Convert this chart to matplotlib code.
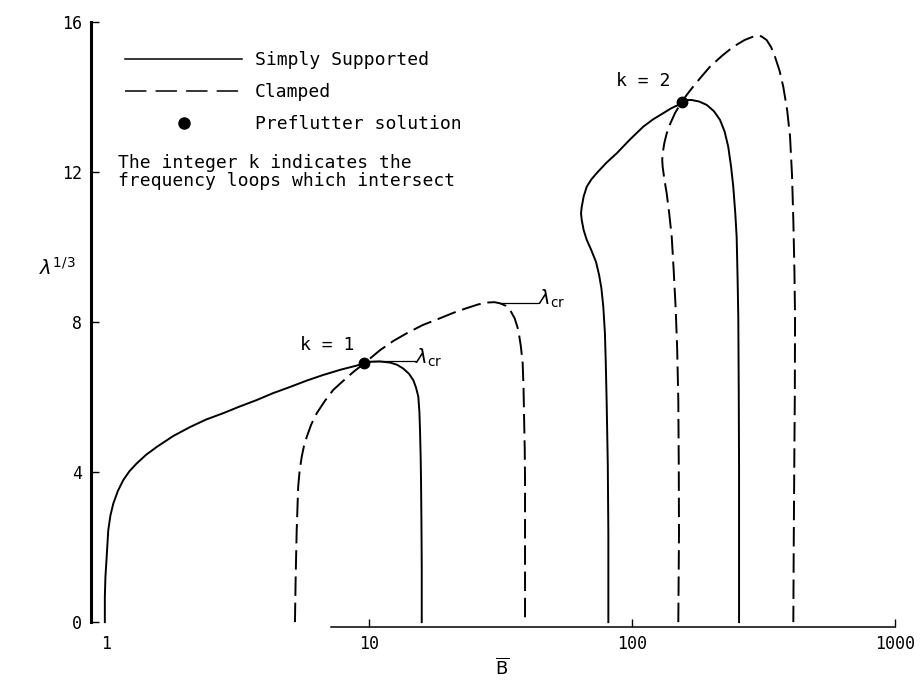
import matplotlib
matplotlib.use('Agg')
import matplotlib.pyplot as plt
from matplotlib.lines import Line2D

plt.rcParams['font.family'] = 'DejaVu Sans Mono'
plt.rcParams['mathtext.fontset'] = 'dejavusans'

# frequency loops, simply supported edges (k = 1 and k = 2)
ss1_x = [0.99, 0.99, 0.995, 1.006, 1.02, 1.04, 1.066, 1.11, 1.164, 1.23, 1.308, 1.42,
         1.559, 1.8, 2.086, 2.4, 2.79, 3.2, 3.74, 4.3, 5.01, 5.8, 6.70, 7.8, 8.98, 9.6,
         10.09, 11.0, 12.02, 12.8, 13.5, 14.2, 14.74, 15.1, 15.4, 15.55, 15.63, 15.72,
         15.77, 15.83, 15.87, 15.87]
ss1_y = [0.0, 0.67, 1.2, 1.74, 2.45, 2.85, 3.16, 3.5, 3.79, 4.03, 4.23, 4.46,
         4.67, 4.96, 5.2, 5.4, 5.57, 5.74, 5.92, 6.1, 6.27, 6.44, 6.59, 6.73, 6.84, 6.9,
         6.94, 6.95, 6.92, 6.86, 6.76, 6.62, 6.45, 6.25, 6.01, 5.6, 5.12, 4.4,
         3.79, 2.6, 1.47, 0.0]

ss2_x = [81.3, 81.3, 80.9, 80.1, 79.5, 78.9, 77.8, 76.5, 75.0, 73.0, 70.0, 67.3, 65.5,
         64.4, 64.0, 64.4, 65.5, 67.3, 70.0, 73.4, 80.0, 87.5, 98.0, 110.4, 120, 131.5,
         141, 150, 154.5, 161, 168.7, 180, 192.3, 205, 216.1, 225, 232.3, 238, 242.7,
         247, 250, 252, 253.6, 254.6, 255.3, 255.3]
ss2_y = [0.0, 2.37, 4.2, 5.87, 6.9, 7.70, 8.4, 8.9, 9.25, 9.6, 9.92, 10.19, 10.45,
         10.72, 10.9, 11.07, 11.35, 11.61, 11.8, 11.97, 12.25, 12.5, 12.86, 13.21, 13.4, 13.57,
         13.7, 13.79, 13.87, 13.92, 13.92, 13.88, 13.79, 13.62, 13.39, 13.08, 12.67, 12.15, 11.61,
         10.9, 10.27, 9.2, 8.14, 6.2, 4.14, 0.0]

# frequency loops, clamped edges
c1_x = [5.23, 5.26, 5.31, 5.38, 5.45, 5.55, 5.66, 5.80, 6.03, 6.33, 6.8, 7.31, 8.0,
        8.72, 9.6, 11.01, 12.4, 13.91, 16.0, 18.6, 21.0, 23.5, 26.0, 28.0, 30.0, 31.5,
        33.2, 34.4, 35.8, 36.96, 37.8, 38.4, 38.7, 38.85, 39.1, 39.2, 39.2]
c1_y = [0.0, 1.12, 2.45, 3.61, 4.05, 4.41, 4.7, 4.94, 5.27, 5.57, 5.9, 6.19, 6.44,
        6.67, 6.9, 7.25, 7.5, 7.70, 7.92, 8.10, 8.25, 8.37, 8.47, 8.52, 8.53, 8.5,
        8.43, 8.32, 8.1, 7.79, 7.35, 6.9, 6.2, 5.57, 4.6, 3.79, 0.0]

c2_x = [150, 150.9, 150.6, 150, 148.5, 146.5, 144, 141.6, 138.5, 135.5, 132.8, 130.8,
        130.3, 130.8, 132.8, 135.5, 140, 145.7, 154.5, 162, 171, 184, 198, 220, 242.7,
        268, 293.6, 310, 325, 338, 349.8, 364, 376.1, 389, 399, 406, 410.6, 414.5,
        416.8, 416, 414, 412, 410.6]
c2_y = [0.0, 2.37, 4.2, 5.92, 7.3, 8.4, 9.4, 10.27, 10.9, 11.43, 11.8, 12.14,
        12.32, 12.5, 12.78, 13.03, 13.3, 13.57, 13.87, 14.07, 14.28, 14.55, 14.81, 15.1, 15.34,
        15.52, 15.63, 15.62, 15.52, 15.33, 15.07, 14.7, 14.27, 13.65, 12.94, 11.9, 10.72, 9.4,
        8.14, 6.1, 4.14, 2.0, 0.0]

# preflutter solutions (loop intersections)
pre_x = [9.6, 154.5]
pre_y = [6.9, 13.87]
pre_k = ['k = 1', 'k = 2']

# critical values marked with a short leader
lcr_x = [(10.1, 15.0), (31.5, 44.0)]
lcr_y = [6.95, 8.52]

x_ticks = [1, 10, 100, 1000]
y_ticks = [0, 4, 8, 12, 16]

fig = plt.figure(figsize=(9.24, 6.8), dpi=100)
ax = fig.add_axes([91 / 924, 1 - 627 / 680, 804 / 924, 605 / 680])

dash = (0, (10, 3.5))
ax.plot(ss1_x, ss1_y, color='black', lw=1.4, label='Simply Supported')
ax.plot(ss2_x, ss2_y, color='black', lw=1.4)
ax.plot(c1_x, c1_y, color='black', lw=1.4, linestyle=dash, label='Clamped')
ax.plot(c2_x, c2_y, color='black', lw=1.4, linestyle=dash)
ax.plot(pre_x, pre_y, 'o', color='black', ms=7.5, label='Preflutter solution')

for (x0, x1), y in zip(lcr_x, lcr_y):
    ax.plot([x0, x1], [y, y], color='black', lw=0.9)
    ax.text(x1, y - 0.05, r'$\lambda_{\mathrm{cr}}$', fontsize=14, ha='left', va='baseline')

ax.text(6.92, 7.39, pre_k[0], fontsize=13, ha='center', va='center')
ax.text(110, 14.43, pre_k[1], fontsize=13, ha='center', va='center')

ax.set_xscale('log')
ax.set_xlim(0.877, 1000)
ax.set_ylim(-0.13, 16)

ax.set_xticks(x_ticks)
ax.set_xticklabels([str(t) for t in x_ticks])
ax.xaxis.set_minor_locator(plt.NullLocator())
ax.set_yticks(y_ticks)
ax.set_yticklabels([str(t) for t in y_ticks])
ax.tick_params(axis='both', direction='in', length=6, width=1.0, labelsize=12)
ax.tick_params(axis='x', pad=6)
ax.tick_params(axis='y', pad=6.5)
# the "1" has a label but no tick mark under the short bottom axis
ax.xaxis.get_major_ticks()[0].tick1line.set_visible(False)

for side in ['top', 'right']:
    ax.spines[side].set_visible(False)
ax.spines['left'].set_linewidth(2.2)
ax.spines['left'].set_bounds(0, 16)
ax.spines['bottom'].set_linewidth(1.1)
ax.spines['bottom'].set_bounds(7.2, 1000)

ax.set_xlabel(r'$\overline{\mathrm{B}}$', fontsize=13, va='center')
ax.xaxis.set_label_coords(0.511, -0.068)
ax.set_ylabel(r'$\lambda^{1/3}$', fontsize=14, rotation=0, va='center', ha='center')
ax.yaxis.set_label_coords(-0.042, 0.593)

handles = [Line2D([], [], color='black', lw=1.1),
           Line2D([], [], color='black', lw=1.1, linestyle=(0, (14, 6))),
           Line2D([], [], color='black', marker='o', ms=8, linestyle='none')]
ax.legend(handles, ['Simply Supported', 'Clamped', 'Preflutter solution'],
          loc='upper left', bbox_to_anchor=(0.0423, 0.952), frameon=False,
          fontsize=13, handlelength=6.5, handletextpad=0.7, labelspacing=0.78,
          borderpad=0, borderaxespad=0)

ax.text(0.0336, 0.752, 'The integer k indicates the\nfrequency loops which intersect',
        transform=ax.transAxes, fontsize=13, ha='left', va='center', linespacing=0.95)

fig.savefig('out.png', dpi=100)
